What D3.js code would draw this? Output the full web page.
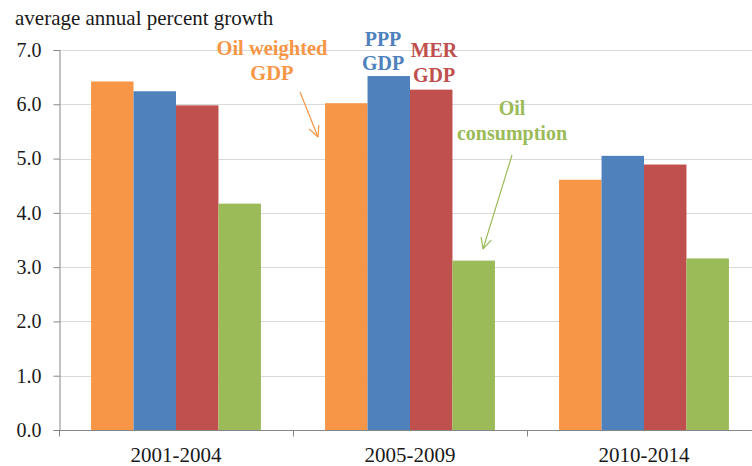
<!DOCTYPE html>
<html><head><meta charset="utf-8">
<script src="https://cdn.jsdelivr.net/npm/d3@7"></script>
<style>body{margin:0;background:#fff}svg{display:block}</style>
</head><body>
<svg id="c" width="752" height="466" font-family="Liberation Serif, Times New Roman, serif"></svg>
<script>
const categories = ["2001-2004", "2005-2009", "2010-2014"];
const seriesNames = ["Oil weighted GDP", "PPP GDP", "MER GDP", "Oil consumption"];
const oilWeighted = [6.42, 6.02, 4.61];
const pppGdp = [6.24, 6.52, 5.05];
const merGdp = [5.98, 6.27, 4.89];
const oilConsumption = [4.17, 3.12, 3.16];
const yTicks = [0, 1, 2, 3, 4, 5, 6, 7];
const colors = ["#F79646", "#4F81BD", "#C0504D", "#9BBB59"];
const values = [oilWeighted, pppGdp, merGdp, oilConsumption];

(function () {
const FONT = "'Liberation Serif', 'Times New Roman', serif";
const svg = d3.select("#c");
const mLeft = 59, mRight = 761, mTop = 50, mBottom = 430;
const y = d3.scaleLinear().domain([0, 7]).range([mBottom, mTop]);
const x0 = d3.scaleBand().domain(categories).range([mLeft, mRight]).paddingInner(0).paddingOuter(0);
const bw = x0.bandwidth();
const x1 = d3.scaleBand().domain(seriesNames).range([bw * 0.137, bw * 0.863]).padding(0);

// gridlines
svg.append("g").selectAll("line").data(yTicks.filter(d => d > 0)).join("line")
  .attr("x1", mLeft).attr("x2", 752).attr("y1", d => Math.round(y(d)) + 0.5).attr("y2", d => Math.round(y(d)) + 0.5)
  .attr("stroke", "#D9D9D9").attr("stroke-width", 1);

// bars
const g = svg.append("g");
categories.forEach((c, i) => {
  seriesNames.forEach((s, j) => {
    g.append("rect")
      .attr("x", x0(c) + x1(s)).attr("width", x1.bandwidth())
      .attr("y", y(values[j][i])).attr("height", y(0) - y(values[j][i]))
      .attr("fill", colors[j]);
  });
});

// y axis
const yAxis = d3.axisLeft(y).tickValues(yTicks).tickFormat(d3.format(".1f")).tickSizeOuter(0).tickSize(6).tickPadding(12);
const ya = svg.append("g").attr("transform", `translate(${mLeft + 0.5},0)`).call(yAxis);
ya.attr("font-family", null).attr("font-size", null);
ya.select(".domain").attr("stroke", "#868686");
ya.selectAll(".tick line").attr("stroke", "#868686");
ya.selectAll(".tick text").style("font-size", "20px").attr("fill", "#1a1a1a").style("font-family", FONT);

// x axis
const xa = svg.append("g").attr("transform", `translate(0,${mBottom + 0.5})`);
xa.append("line").attr("x1", mLeft).attr("x2", 752).attr("stroke", "#868686");
xa.selectAll("line.t").data([mLeft, ...categories.slice(1).map(c => x0(c))]).join("line").attr("class", "t")
  .attr("x1", d => Math.round(d) + 0.5).attr("x2", d => Math.round(d) + 0.5).attr("y1", 0).attr("y2", 6).attr("stroke", "#868686");
xa.selectAll("text").data(categories).join("text")
  .attr("x", d => x0(d) + bw / 2).attr("y", 31).attr("text-anchor", "middle")
  .style("font-size", "21px").style("font-family", FONT).attr("fill", "#1a1a1a").text(d => d);

// title
svg.append("text").attr("x", 15).attr("y", 25).style("font-size", "21px").style("font-family", FONT).attr("fill", "#1a1a1a")
  .text("average annual percent growth");

// annotations
const ann = [
  {lines: ["Oil weighted", "GDP"], x: 272, y: [55, 80], color: colors[0], size: 20.5},
  {lines: ["PPP", "GDP"], x: 383, y: [46, 70], color: colors[1], size: 20},
  {lines: ["MER", "GDP"], x: 434, y: [57, 82], color: colors[2], size: 20},
  {lines: ["Oil", "consumption"], x: 512, y: [115, 140], color: colors[3], size: 20}
];
ann.forEach(a => {
  a.lines.forEach((l, k) => {
    svg.append("text").attr("x", a.x).attr("y", a.y[k]).attr("text-anchor", "middle")
      .style("font-size", a.size + "px").style("font-weight", "bold").style("font-family", FONT).attr("fill", a.color).text(l);
  });
});

function arrow(x1a, y1a, x2a, y2a, color) {
  svg.append("line").attr("x1", x1a).attr("y1", y1a).attr("x2", x2a).attr("y2", y2a)
    .attr("stroke", color).attr("stroke-width", 1.2);
  const ang = Math.atan2(y2a - y1a, x2a - x1a);
  const len = 12, spread = 0.45;
  [ang + Math.PI - spread, ang + Math.PI + spread].forEach(t => {
    svg.append("line").attr("x1", x2a).attr("y1", y2a)
      .attr("x2", x2a + len * Math.cos(t)).attr("y2", y2a + len * Math.sin(t))
      .attr("stroke", color).attr("stroke-width", 1.2);
  });
}
arrow(300, 92, 318, 137, colors[0]);
arrow(512, 155, 483, 249, colors[3]);
})();
</script>
</body></html>
